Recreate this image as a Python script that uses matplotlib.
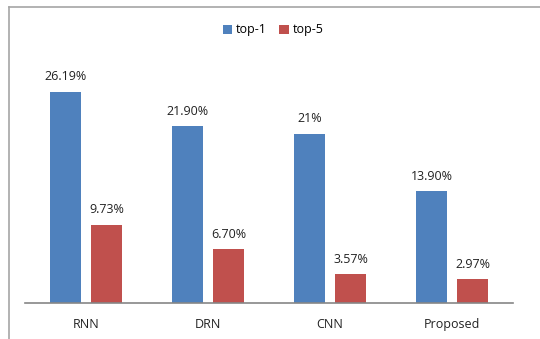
import numpy as np
import matplotlib.pyplot as plt
from matplotlib.lines import Line2D

methods = ["RNN", "DRN", "CNN", "Proposed"]
top1 = [26.19, 21.90, 21.0, 13.90]
top5 = [9.73, 6.70, 3.57, 2.97]
top1_txt = ["26.19%", "21.90%", "21%", "13.90%"]
top5_txt = ["9.73%", "6.70%", "3.57%", "2.97%"]

blue = "#4F81BD"
red = "#C0504D"

plt.rcParams['font.family'] = ['Open Sans', 'DejaVu Sans']

fig = plt.figure(figsize=(5.4, 3.39), dpi=100)
W, H = 540, 339

# outer chart frame: only the left and top edges are inside the image
frame = dict(transform=fig.transFigure, color="#a6a6a6", linewidth=1.2)
fig.lines.append(Line2D([9 / W, 9 / W], [0, (H - 7) / H], **frame))
fig.lines.append(Line2D([9 / W, 1], [(H - 7) / H, (H - 7) / H], **frame))

ax = fig.add_axes([25 / W, (H - 303) / H, (513 - 25) / W, 242 / H])
x = np.arange(len(methods))
w = 0.26
off = 0.168
b1 = ax.bar(x - off, top1, w, color=blue, label="top-1")
b2 = ax.bar(x + off, top5, w, color=red, label="top-5")

for bars, texts in [(b1, top1_txt), (b2, top5_txt)]:
    for rect, t in zip(bars, texts):
        ax.annotate(t, (rect.get_x() + rect.get_width() / 2, rect.get_height()),
                    xytext=(0, 6), textcoords="offset points", ha="center",
                    va="bottom", fontsize=9, color="#222222")

ax.set_xlim(-0.5, 3.5)
ax.set_ylim(0, 30)
ax.set_xticks(x)
ax.set_xticklabels(methods, fontsize=9, color="#222222")
ax.tick_params(axis="x", length=0, pad=11)
ax.set_yticks([])
for s in ["top", "left", "right"]:
    ax.spines[s].set_visible(False)
ax.spines["bottom"].set_color("#868686")
ax.spines["bottom"].set_linewidth(1.2)

fig.legend(loc="center", bbox_to_anchor=(273 / W, (H - 30) / H), ncol=2,
           frameon=False, fontsize=9, handlelength=0.75, handleheight=0.75,
           handletextpad=0.3, columnspacing=1.0)

fig.savefig("out.png", dpi=100)
